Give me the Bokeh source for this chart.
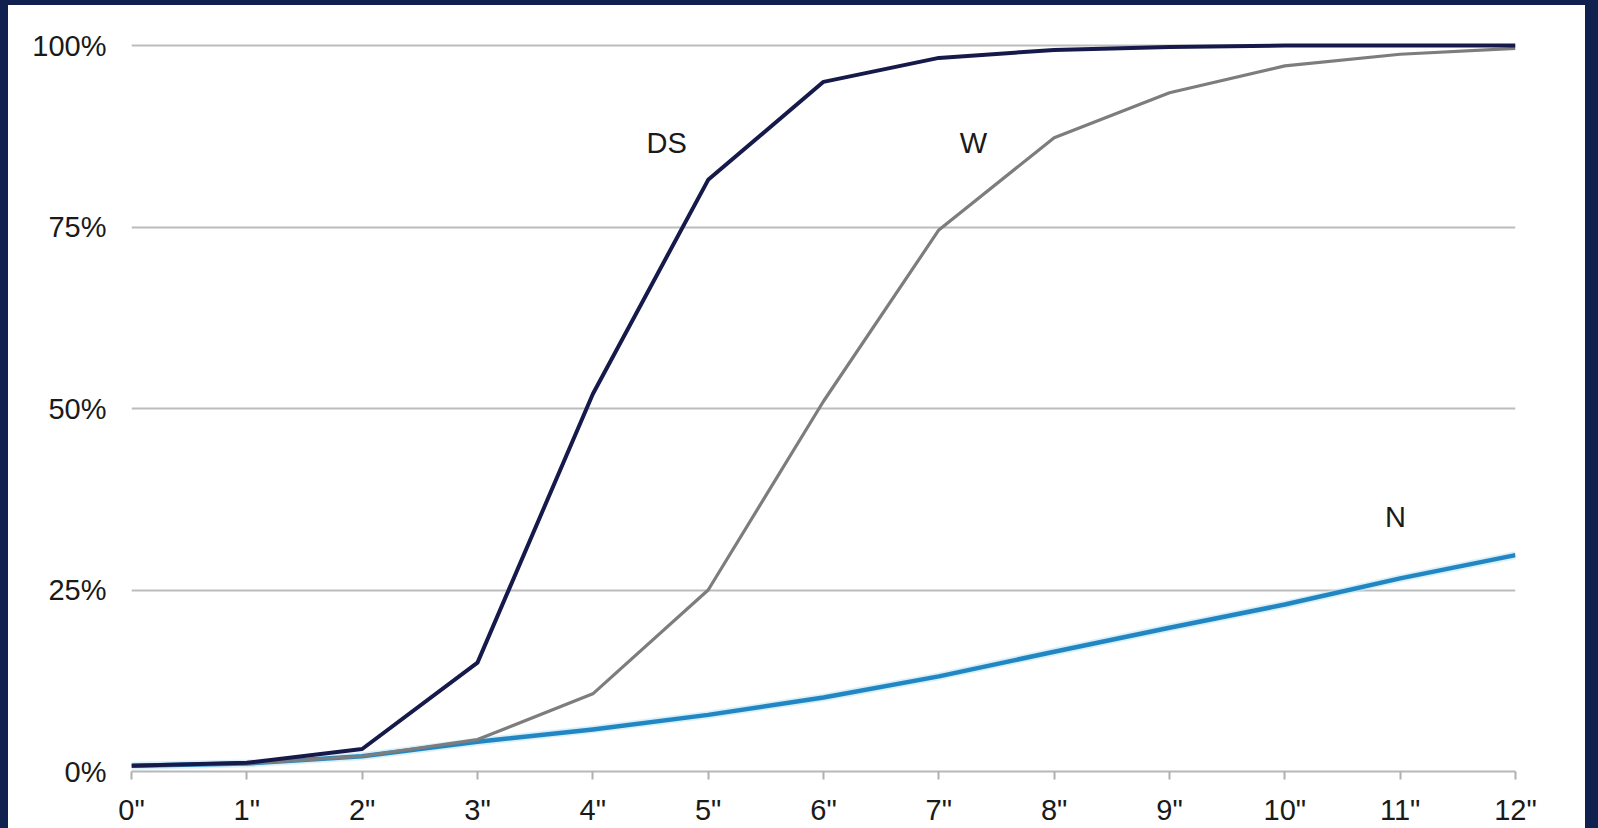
from bokeh.plotting import figure
from bokeh.models import FixedTicker, ColumnDataSource, Div
from bokeh.layouts import column, row
from bokeh.core.properties import value
from bokeh.embed import file_html
from bokeh.resources import INLINE

# ---- data ----
inches = [0, 1, 2, 3, 4, 5, 6, 7, 8, 9, 10, 11, 12]
ds = [0.8, 1.2, 3.1, 15.0, 52.0, 81.5, 95.0, 98.3, 99.4, 99.8, 100.0, 100.0, 100.0]
w = [0.8, 1.1, 2.1, 4.4, 10.7, 25.0, 51.0, 74.6, 87.3, 93.5, 97.2, 98.8, 99.6]
n = [0.8, 1.1, 2.1, 4.1, 5.8, 7.8, 10.2, 13.1, 16.5, 19.8, 23.0, 26.6, 29.8]

x_tick_labels = ['0"', '1"', '2"', '3"', '4"', '5"', '6"', '7"', '8"', '9"', '10"', '11"', '12"']
y_ticks = [0, 25, 50, 75, 100]
y_tick_labels = ["0%", "25%", "50%", "75%", "100%"]

series_names = ["DS", "W", "N"]
label_x = [4.64, 7.30, 10.96]
label_y = [86.6, 86.6, 35.0]

FONT = "Liberation Sans"
NAVY = "#10204f"

p = figure(width=1577, height=823, x_range=(0, 12), y_range=(0, 104),
           output_backend="svg", toolbar_location=None,
           min_border_left=123, min_border_right=70, min_border_top=11, min_border_bottom=57)
p.outline_line_color = None
p.background_fill_color = "white"
p.border_fill_color = "white"
p.margin = 0

# grid
p.xgrid.grid_line_color = None
p.ygrid.ticker = FixedTicker(ticks=y_ticks[1:])
p.ygrid.grid_line_color = "#bcbcbc"
p.ygrid.grid_line_width = 2

# x axis
xa = p.xaxis[0]
xa.ticker = FixedTicker(ticks=inches)
xa.major_label_overrides = {i: lab for i, lab in zip(inches, x_tick_labels)}
xa.axis_line_color = "#b8b8b8"
xa.axis_line_width = 2
xa.major_tick_line_color = "#b0b0b0"
xa.major_tick_line_width = 2
xa.major_tick_out = 8
xa.major_tick_in = 0
xa.minor_tick_line_color = None
xa.major_label_standoff = 14
xa.major_label_text_font = FONT
xa.major_label_text_font_size = "29px"
xa.major_label_text_color = "#1a1a1a"

# y axis
ya = p.yaxis[0]
ya.ticker = FixedTicker(ticks=y_ticks)
ya.major_label_overrides = {t: lab for t, lab in zip(y_ticks, y_tick_labels)}
ya.axis_line_color = None
ya.major_tick_line_color = None
ya.minor_tick_line_color = None
ya.major_tick_out = 0
ya.major_tick_in = 0
ya.major_label_standoff = 25
ya.major_label_text_font = FONT
ya.major_label_text_font_size = "29px"
ya.major_label_text_color = "#1a1a1a"

# lines
p.line(inches, n, line_color="#bfe6f5", line_width=8, line_alpha=0.6, line_join="round")
p.line(inches, n, line_color="#2286c3", line_width=4.5, line_join="round")
p.line(inches, w, line_color="#7d7d7d", line_width=3.2, line_join="round")
p.line(inches, ds, line_color="#161a4a", line_width=4, line_join="round")

src = ColumnDataSource(dict(x=label_x, y=label_y, t=series_names))
p.text(x="x", y="y", text="t", source=src, text_font=value(FONT), text_font_size="29px",
       text_color="#1a1a1a", text_align="center", text_baseline="middle")

# navy frame around the chart (page edges)
def navy(wd, ht):
    return Div(text="", width=wd, height=ht, margin=0,
               styles={"background-color": NAVY})

page = column(
    navy(1598, 5),
    row(navy(8, 823), p, navy(13, 823), spacing=0, margin=0),
    spacing=0, margin=0,
)

open("out.html", "w").write(file_html(page, INLINE))
